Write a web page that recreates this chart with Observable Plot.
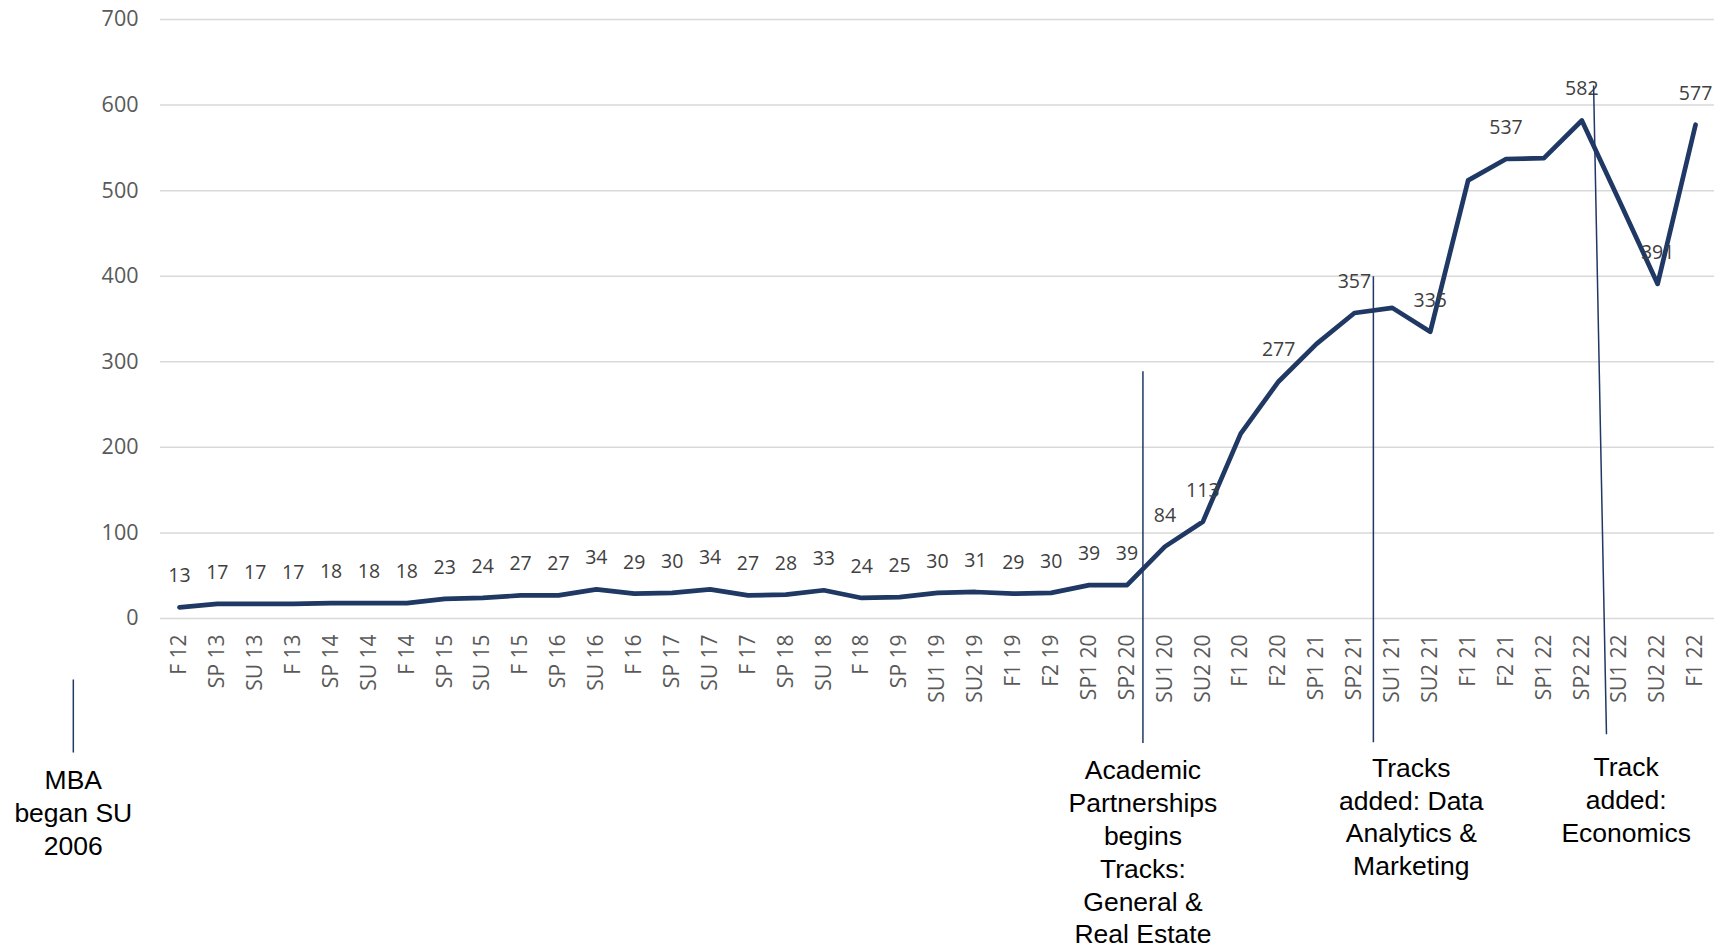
<!DOCTYPE html>
<html><head><meta charset="utf-8">
<script src="https://cdn.jsdelivr.net/npm/d3@7"></script>
<script src="https://cdn.jsdelivr.net/npm/@observablehq/plot@0.6"></script>
<style>html,body{margin:0;padding:0;background:#fff} #chart svg{display:block}</style>
</head><body><div id="chart"></div>
<script>
const terms = ["F 12","SP 13","SU 13","F 13","SP 14","SU 14","F 14","SP 15","SU 15","F 15","SP 16","SU 16","F 16","SP 17","SU 17","F 17","SP 18","SU 18","F 18","SP 19","SU1 19","SU2 19","F1 19","F2 19","SP1 20","SP2 20","SU1 20","SU2 20","F1 20","F2 20","SP1 21","SP2 21","SU1 21","SU2 21","F1 21","F2 21","SP1 22","SP2 22","SU1 22","SU2 22","F1 22"];
const enrollment = [13,17,17,17,18,18,18,23,24,27,27,34,29,30,34,27,28,33,24,25,30,31,29,30,39,39,84,113,216,277,321,357,363,335,512,537,538,582,487,391,577];
const hiddenLabels = ["F1 20","SP1 21","SU1 21","F1 21","SP1 22","SU1 22"];
const yTicks = [0,100,200,300,400,500,600,700];

// annotation anchors in data units (term index, enrollment value)
const noteLines = [
  {x1:-2.80, y1:-71.3, x2:-2.80, y2:-156.6},
  {x1:25.42, y1:289, x2:25.42, y2:-145.5},
  {x1:31.5, y1:400, x2:31.5, y2:-144.6},
  {x1:37.31, y1:622.9, x2:37.65, y2:-135.2}
];
const noteTexts = [
  {x:-2.80, y:-172.0, text:"MBA\nbegan SU\n2006"},
  {x:25.42, y:-160.4, text:"Academic\nPartnerships\nbegins\nTracks:\nGeneral &\nReal Estate"},
  {x:32.5, y:-157.7, text:"Tracks\nadded: Data\nAnalytics &\nMarketing"},
  {x:38.17, y:-157.3, text:"Track\nadded:\nEconomics"}
];

const rows = terms.map((t, i) => ({i, term: t, value: enrollment[i]}));

const chart = Plot.plot({
  width: 1725, height: 950,
  marginLeft: 160, marginRight: 11, marginTop: 19, marginBottom: 332,
  style: {fontFamily: "'Open Sans', sans-serif", background: "#fff"},
  x: {type: "linear", domain: [-0.5, terms.length - 0.5]},
  y: {domain: [0, 700]},
  marks: [
    Plot.gridY(yTicks, {stroke: "#d9d9d9", strokeOpacity: 1, strokeWidth: 1.5}),
    Plot.axisY(yTicks, {tickSize: 0, tickPadding: 22, fontSize: 21.5, color: "#595959", label: null}),
    Plot.axisX(d3.range(terms.length), {tickFormat: i => terms[i], tickRotate: -90, tickSize: 0, tickPadding: 16, fontSize: 21, color: "#595959", label: null}),
    Plot.line(rows, {x: "i", y: "value", stroke: "#1f3864", strokeWidth: 4.7, strokeLinejoin: "round", strokeLinecap: "round"}),
    Plot.text(rows.filter(d => !hiddenLabels.includes(d.term)), {x: "i", y: "value", text: d => String(d.value), dy: -25, lineAnchor: "bottom", fontSize: 19.5, fill: "#404040"}),
    Plot.link(noteLines, {x1: "x1", y1: "y1", x2: "x2", y2: "y2", stroke: "#1f3864", strokeWidth: 1.5}),
    Plot.text(noteTexts, {x: "x", y: "y", text: "text", lineAnchor: "top", lineHeight: 1.24, fontSize: 26.5, fontFamily: "'Liberation Sans', Arial, sans-serif", fill: "#000"})
  ]
});
document.getElementById("chart").appendChild(chart);
</script>
</body></html>
